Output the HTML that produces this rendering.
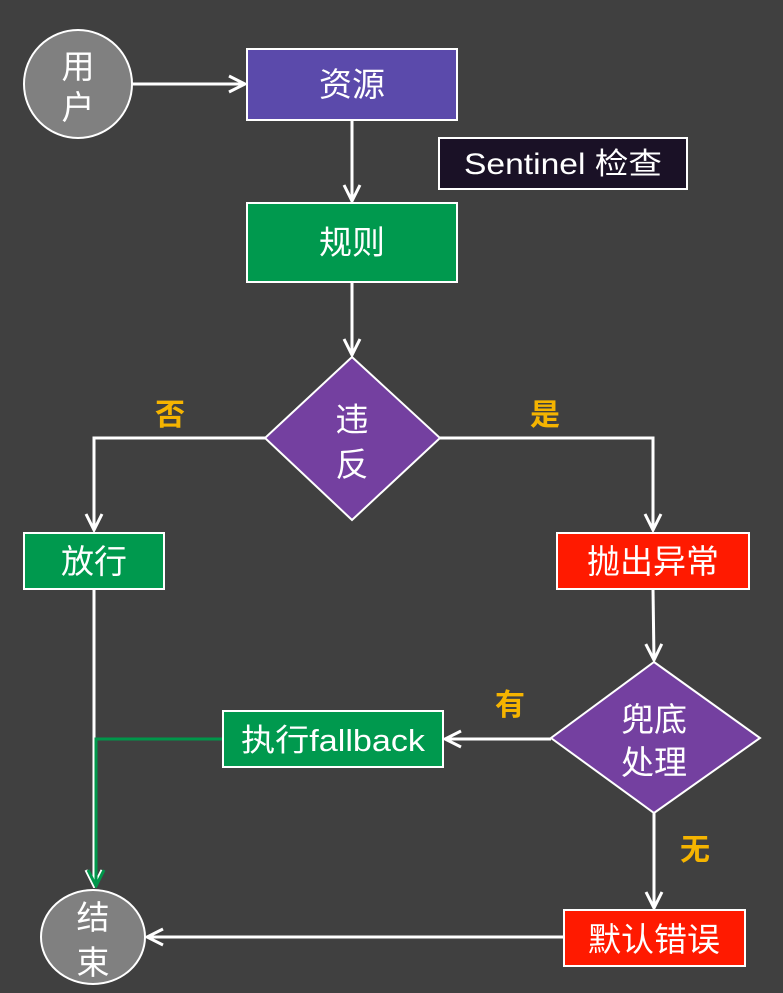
<!DOCTYPE html>
<html><head><meta charset="utf-8"><style>
body{margin:0;background:#404040;width:783px;height:993px;overflow:hidden}
svg{display:block}
text{font-family:"Liberation Sans","Noto Sans CJK SC",sans-serif;fill:#fff}
.b{font-weight:bold;fill:#f5b400}
</style></head><body>
<svg width="783" height="993" viewBox="0 0 783 993">
<defs>
<marker id="a" viewBox="0 0 20 20" refX="18" refY="10" markerWidth="20" markerHeight="20" markerUnits="userSpaceOnUse" orient="auto"><path d="M2,2 L18,10 L2,18" fill="none" stroke="#fff" stroke-width="3"/></marker>
<marker id="g" viewBox="0 0 20 20" refX="18" refY="10" markerWidth="20" markerHeight="20" markerUnits="userSpaceOnUse" orient="auto"><path d="M2,2 L18,10 L2,18" fill="none" stroke="#00964a" stroke-width="3"/></marker>
</defs>
<g stroke="#fff" stroke-width="3" fill="none">
<line x1="132" y1="84" x2="245" y2="84" marker-end="url(#a)"/>
<line x1="352" y1="120" x2="352" y2="201" marker-end="url(#a)"/>
<line x1="352" y1="282" x2="352" y2="355" marker-end="url(#a)"/>
<polyline points="265,438 94,438 94,530" marker-end="url(#a)"/>
<polyline points="440,438 653,438 653,530" marker-end="url(#a)"/>
<line x1="94" y1="589" x2="94" y2="886" marker-end="url(#a)"/>
<line x1="653" y1="589" x2="654" y2="660" marker-end="url(#a)"/>
<line x1="551" y1="739" x2="445" y2="739" marker-end="url(#a)"/>
<line x1="654" y1="813" x2="654" y2="908" marker-end="url(#a)"/>
<line x1="564" y1="937" x2="147" y2="937" marker-end="url(#a)"/>
</g>
<polyline points="223,739 96,739 96,886" stroke="#00964a" stroke-width="3" fill="none" marker-end="url(#g)"/>
<g stroke="#fff" stroke-width="2">
<circle cx="78" cy="84" r="54" fill="#808080"/>
<rect x="247" y="49" width="210" height="71" fill="#5b4aab"/>
<rect x="439" y="138" width="248" height="51" fill="#1a1126"/>
<rect x="247" y="203" width="210" height="79" fill="#00994e"/>
<polygon points="352,357 440,438 352,520 265,438" fill="#7440a0"/>
<rect x="24" y="533" width="140" height="56" fill="#00994e"/>
<rect x="557" y="533" width="192" height="56" fill="#ff1a00"/>
<polygon points="654,662 760,738 654,813 551,738" fill="#7440a0"/>
<rect x="223" y="711" width="220" height="56" fill="#00994e"/>
<rect x="564" y="910" width="181" height="56" fill="#ff1a00"/>
<ellipse cx="93" cy="937" rx="52" ry="47" fill="#808080"/>
</g>
<g font-size="33" text-anchor="middle">
<text x="78" y="78">用</text><text x="78" y="119">户</text>
<text x="352" y="96">资源</text>
<text x="352" y="254">规则</text>
<text x="352" y="431">违</text><text x="352" y="476">反</text>
<text x="94" y="573">放行</text>
<text x="653" y="573">抛出异常</text>
<text x="654" y="731">兜底</text><text x="654" y="774">处理</text>
<text x="654" y="951">默认错误</text>
<text x="93" y="929">结</text><text x="93" y="974">束</text>
</g>
<text x="563" y="174" font-size="30" text-anchor="middle" textLength="198" lengthAdjust="spacingAndGlyphs">Sentinel 检查</text>
<text x="333" y="751" font-size="31" text-anchor="middle" textLength="184" lengthAdjust="spacingAndGlyphs">执行fallback</text>
<g font-size="30" text-anchor="middle">
<text class="b" x="170" y="425">否</text>
<text class="b" x="545" y="425">是</text>
<text class="b" x="510" y="715">有</text>
<text class="b" x="695" y="860">无</text>
</g>
</svg>
</body></html>
